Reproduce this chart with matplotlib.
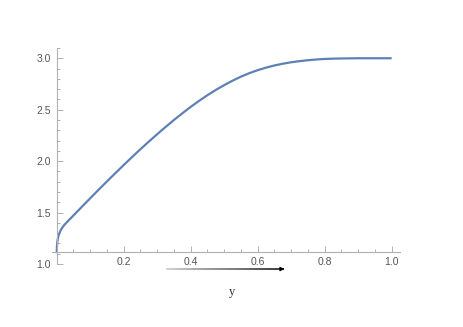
import numpy as np
import matplotlib.pyplot as plt
from matplotlib.collections import LineCollection
from matplotlib.ticker import MultipleLocator, FixedLocator, FormatStrFormatter

# curve values
x_vals = [0.0, 0.0005, 0.001, 0.002, 0.004, 0.007, 0.011, 0.016, 0.022,
          0.029, 0.037, 0.05, 0.075, 0.1, 0.125, 0.15, 0.175, 0.2, 0.225,
          0.25, 0.275, 0.3, 0.325, 0.35, 0.375, 0.4, 0.425, 0.45, 0.475,
          0.5, 0.525, 0.55, 0.575, 0.6, 0.625, 0.65, 0.675, 0.7, 0.725,
          0.75, 0.775, 0.8, 0.825, 0.85, 0.875, 0.9, 1.0]
y_vals = [1.113, 1.162, 1.187, 1.221, 1.258, 1.293, 1.323, 1.351, 1.377,
          1.402, 1.429, 1.472, 1.556, 1.639, 1.722, 1.803, 1.883, 1.962, 2.04,
          2.116, 2.19, 2.262, 2.332, 2.4, 2.465, 2.527, 2.586, 2.641, 2.692,
          2.739, 2.782, 2.821, 2.855, 2.884, 2.909, 2.93, 2.947, 2.961, 2.972,
          2.981, 2.988, 2.993, 2.996, 2.998, 2.999, 3.0, 3.0]

x_ticks = [0.2, 0.4, 0.6, 0.8, 1.0]
y_ticks = [1.0, 1.5, 2.0, 2.5, 3.0]
axis_cross = 1.113

arrow_from = (0.325, 0.951)
arrow_to = (0.68, 0.951)
label_text = "y"
label_pos = (0.522, 0.728)

line_color = "#5E81B5"
axis_color = "#b0b0b0"
text_color = "#555555"

plt.rcParams["font.family"] = ["Liberation Sans", "DejaVu Sans"]

fig = plt.figure(figsize=(4.63, 3.27), dpi=100)
ax = fig.add_axes([0.1117, 0.1927, 0.7523, 0.6606])

ax.plot(x_vals, y_vals, color=line_color, lw=1.6, solid_capstyle="butt",
        solid_joinstyle="round")

ax.set_xlim(-0.015, 1.025)
ax.set_ylim(1.0, 3.1)

for side in ["top", "right"]:
    ax.spines[side].set_visible(False)
ax.spines["left"].set_position(("data", 0))
ax.spines["bottom"].set_position(("data", axis_cross))
for side in ["left", "bottom"]:
    ax.spines[side].set_color(axis_color)
    ax.spines[side].set_linewidth(0.8)

ax.xaxis.set_major_locator(FixedLocator(x_ticks))
ax.xaxis.set_minor_locator(MultipleLocator(0.05))
ax.yaxis.set_major_locator(FixedLocator(y_ticks))
ax.yaxis.set_minor_locator(MultipleLocator(0.1))
ax.xaxis.set_major_formatter(FormatStrFormatter("%.1f"))
ax.yaxis.set_major_formatter(FormatStrFormatter("%.1f"))

ax.tick_params(which="both", direction="in", color=axis_color, width=0.7,
               labelcolor=text_color, labelsize=7.5)
ax.tick_params(which="major", length=4)
ax.tick_params(which="minor", length=2)
ax.tick_params(axis="x", pad=3)
ax.tick_params(axis="y", pad=4)

# gradient arrow under the axis
n = 40
xs = np.linspace(arrow_from[0], arrow_to[0], n + 1)
segs = [[(xs[i], arrow_from[1]), (xs[i + 1], arrow_to[1])] for i in range(n)]
shades = plt.cm.Greys(np.linspace(0.35, 1.0, n))
lc = LineCollection(segs, colors=shades, linewidths=1.1, clip_on=False)
ax.add_collection(lc)
ax.annotate("", xy=arrow_to, xytext=(arrow_to[0] - 0.01, arrow_to[1]),
            arrowprops=dict(arrowstyle="-|>", color="black", lw=0.8,
                            mutation_scale=6, shrinkA=0, shrinkB=0),
            annotation_clip=False)

ax.text(label_pos[0], label_pos[1], label_text, family="Liberation Serif",
        fontsize=9, color="#333333", ha="center", va="center", clip_on=False)

fig.savefig("out.png", dpi=100)
